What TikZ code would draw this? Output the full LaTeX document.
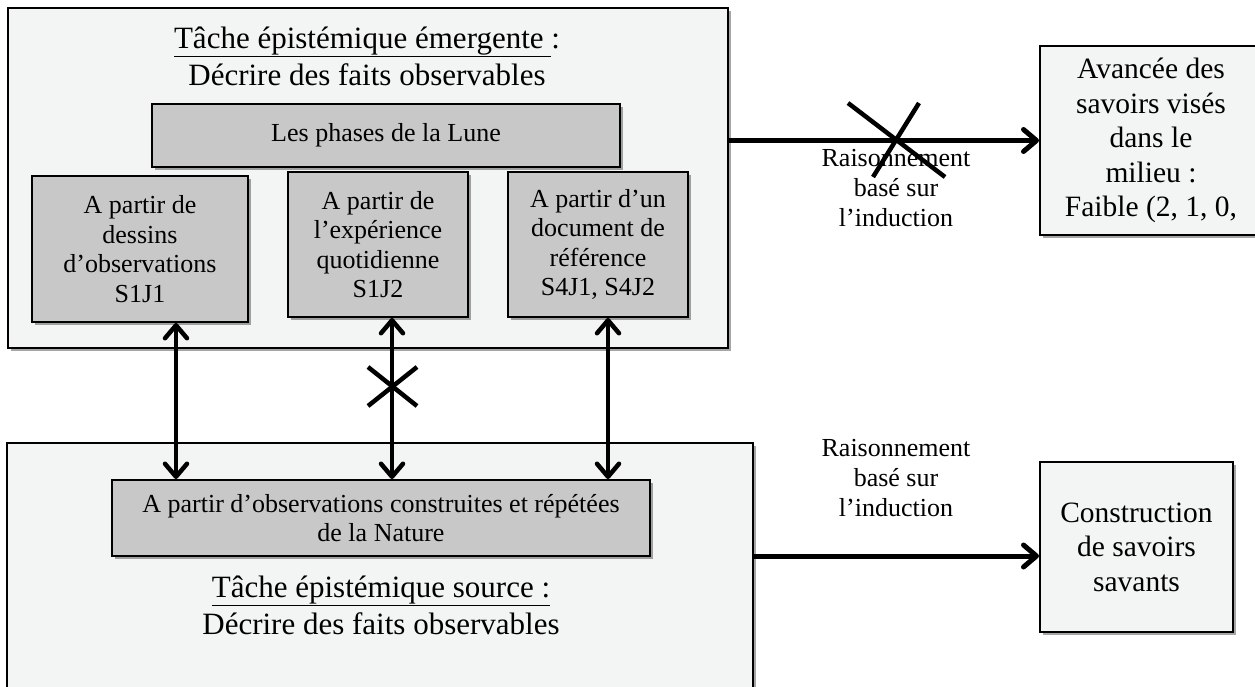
\documentclass[tikz,border=0pt]{standalone}
\usepackage{fontspec}
\setmainfont{Liberation Serif}
\usetikzlibrary{arrows.meta,shadows}
\definecolor{boxbg}{HTML}{F3F5F5}
\definecolor{grayfill}{HTML}{C8C8C8}
\begin{document}
\begin{tikzpicture}[x=1pt,y=-1pt,
  shad/.style={drop shadow={shadow xshift=2.5pt,shadow yshift=-2.5pt,opacity=0.35,fill=black}},
  outerbox/.style={rectangle,draw=black,line width=2pt,fill=boxbg,inner sep=0pt,shad},
  grybox/.style={rectangle,draw=black,line width=2pt,fill=grayfill,inner sep=0pt,align=center,
    font=\fontsize{26}{29.5}\selectfont,shad},
  rbox/.style={rectangle,draw=black,line width=2pt,fill=boxbg,inner sep=0pt,align=center,
    font=\fontsize{29.5}{34.5}\selectfont,shad},
  titletxt/.style={align=center,font=\fontsize{31}{37}\selectfont,inner sep=0pt},
  lbl/.style={align=center,font=\fontsize{26}{30}\selectfont,inner sep=0pt},
  tipb/.tip={Straight Barb[length=13pt,width=22pt,round]},
  arr/.style={line width=5pt,-tipb},
  darr/.style={line width=4.5pt,tipb-tipb},
  crossln/.style={line width=4.5pt}
]
\useasboundingbox (0,0) rectangle (1255,686);
\clip (0,0) rectangle (1255,686);
\fill[white] (0,0) rectangle (1255,686);

% outer boxes
\node[outerbox,minimum width=720,minimum height=340] (emerg) at (368,178) {};
\node[outerbox,minimum width=746,minimum height=262] (source) at (380,574) {};

% titles
\node[titletxt] (emergtitle) at (367,56) {\underline{Tâche épistémique émergente\ }:\\Décrire des faits observables};
\node[titletxt] (sourcetitle) at (381,605) {\underline{Tâche épistémique source :}\\Décrire des faits observables};

% grey boxes
\node[grybox,minimum width=468,minimum height=63] (lune) at (386,135.5) {Les phases de la Lune};
\node[grybox,minimum width=216,minimum height=146] (sub1) at (140,249) {A partir de\\dessins\\d’observations\\S1J1};
\node[grybox,minimum width=180,minimum height=145] (sub2) at (378,244.5) {A partir de\\l’expérience\\quotidienne\\S1J2};
\node[grybox,minimum width=180,minimum height=145] (sub3) at (598,244.5) {A partir d’un\\document de\\référence\\S4J1, S4J2};
\node[grybox,minimum width=538,minimum height=76] (nature) at (381,518) {A partir d’observations construites et répétées\\de la Nature};

% right boxes
\node[rbox,minimum width=222,minimum height=189] (avance) at (1151,140.5) {Avancée des\\savoirs visés\\dans le\\milieu :\\Faible (2, 1, 0,};
\node[rbox,minimum width=193,minimum height=170] (constr) at (1136.5,547) {Construction\\de savoirs\\savants};

% arrow labels
\node[lbl] (lbltop) at (896,188) {Raisonnement\\basé sur\\l’induction};
\node[lbl] (lblbot) at (896,478) {Raisonnement\\basé sur\\l’induction};

% horizontal arrows
\draw[arr] (avance.west -| emerg.east) -- (avance.west);
\draw[arr] ([yshift=-9pt]constr.west -| source.east) -- ([yshift=-9pt]constr.west);

% vertical double arrows
\coordinate (a1) at (176,0);
\coordinate (a2) at (392,0);
\coordinate (a3) at (608,0);
\draw[darr] (sub1.south -| a1) -- (nature.north -| a1);
\draw[darr] (sub2.south -| a2) -- (nature.north -| a2);
\draw[darr] (sub3.south -| a3) -- (nature.north -| a3);

% crosses
\coordinate (xc1) at (897,140);
\draw[crossln] ([shift={(-49,-37)}]xc1) -- ([shift={(48,37)}]xc1);
\draw[crossln] ([shift={(22,-37)}]xc1) -- ([shift={(-24,37)}]xc1);
\coordinate (xc2) at (392,386);
\draw[crossln] ([shift={(-24,-19)}]xc2) -- ([shift={(25,20)}]xc2);
\draw[crossln] ([shift={(25,-19)}]xc2) -- ([shift={(-24,20)}]xc2);
\end{tikzpicture}
\end{document}
